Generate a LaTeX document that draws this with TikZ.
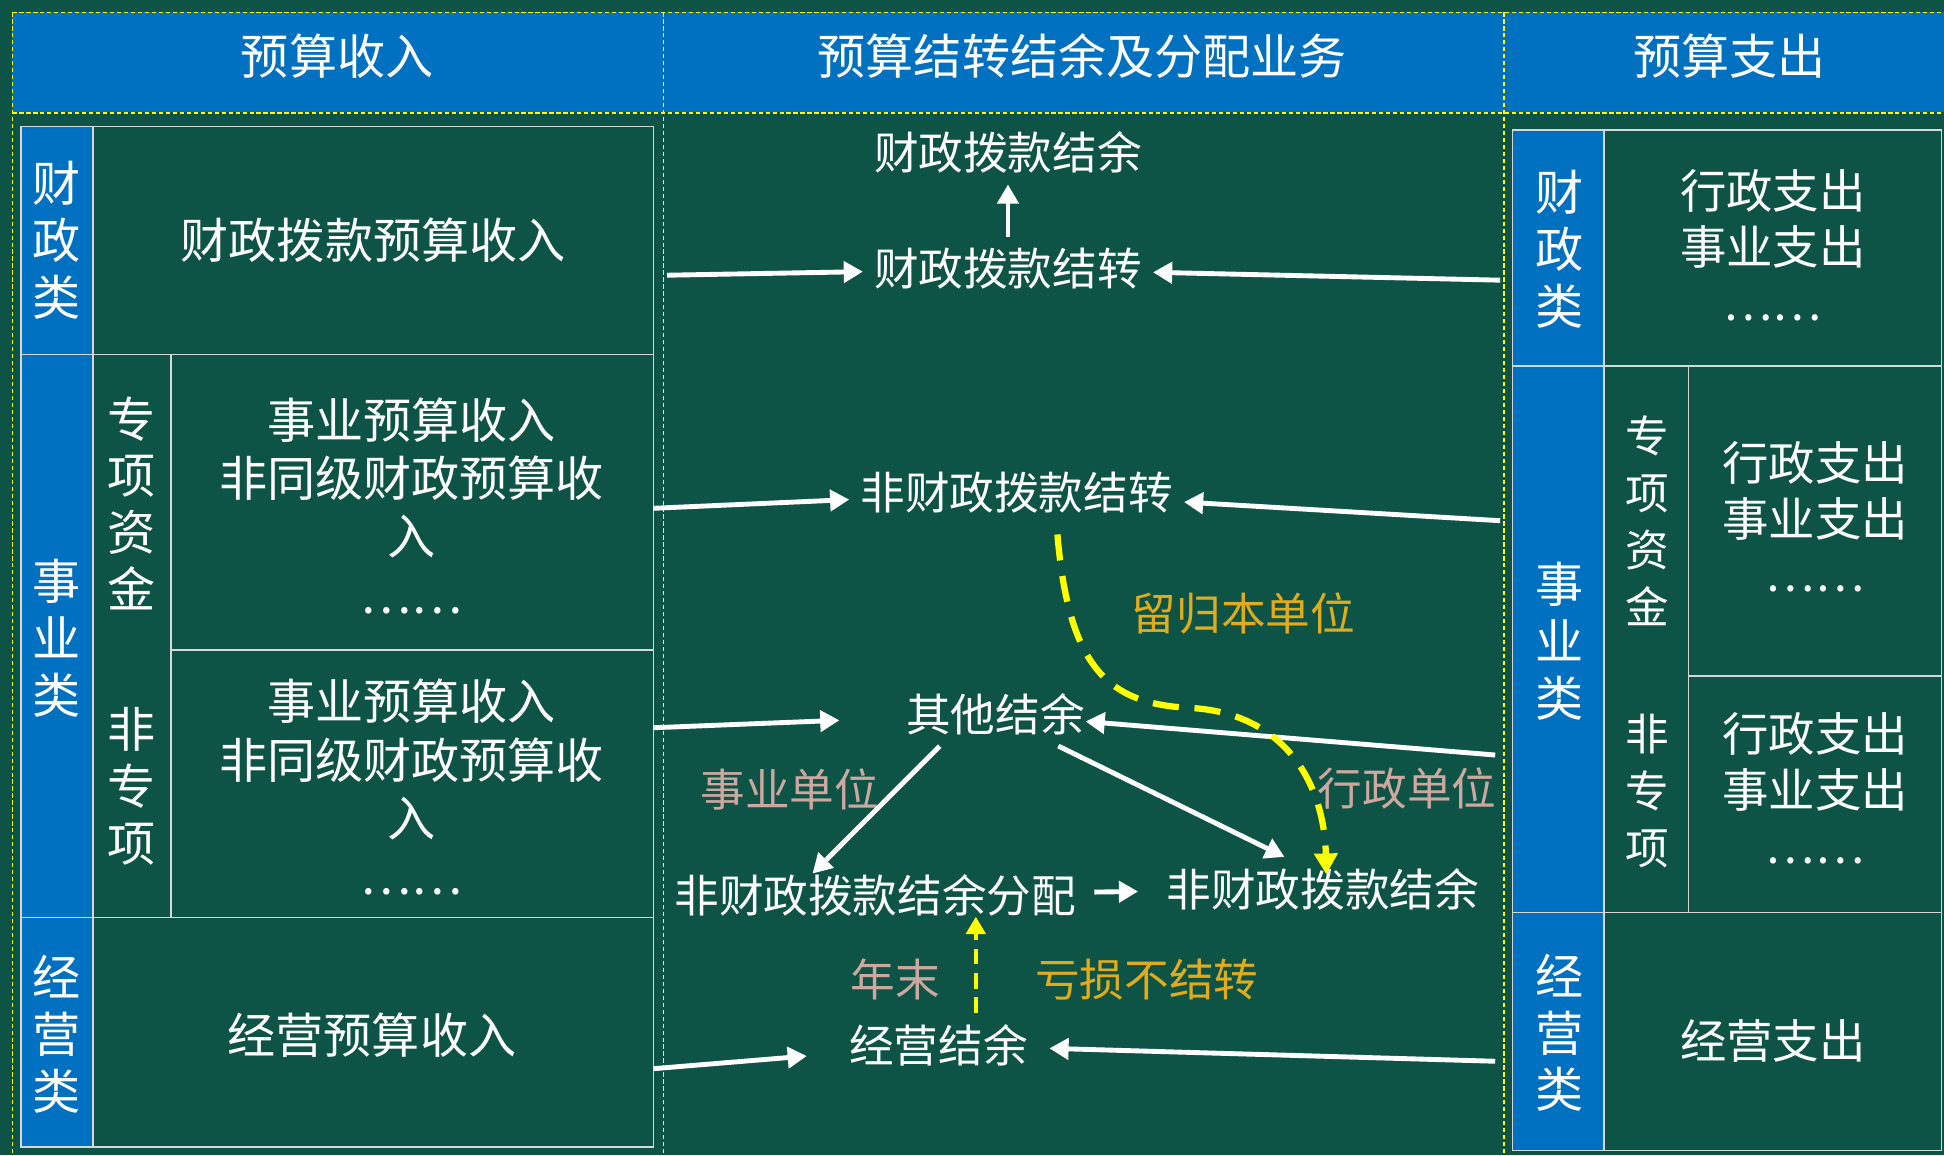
\documentclass[tikz,border=0pt]{standalone}
\usepackage{fontspec}
\setmainfont{Noto Sans CJK SC}
\usetikzlibrary{arrows.meta}
\definecolor{bggreen}{RGB}{13,84,71}
\definecolor{hblue}{RGB}{0,112,192}
\definecolor{yline}{RGB}{255,255,0}
\definecolor{linegray}{RGB}{215,215,215}
\definecolor{goldtext}{RGB}{224,172,30}
\definecolor{pinktext}{RGB}{205,168,160}
\begin{document}
\begin{tikzpicture}[x=0.0125cm, y=-0.0125cm,
    every node/.style={text=white, inner sep=3pt, align=center},
    cell/.style={draw=linegray, line width=0.5pt},
    ydash/.style={draw=yline, line width=0.4pt, dash pattern=on 1.2pt off 0.8pt},
    head/.style={font=\fontsize{13.8}{16}\selectfont},
    side/.style={font=\fontsize{13.8}{16.3}\selectfont},
    rside/.style={font=\fontsize{12.5}{16.3}\selectfont},
    body/.style={font=\fontsize{13.8}{16.7}\selectfont},
    rbody/.style={font=\fontsize{13.3}{16}\selectfont},
    item/.style={font=\fontsize{12.8}{15}\selectfont},
    goldnote/.style={item, text=goldtext},
    pinknote/.style={item, text=pinktext},
    arr/.style={draw=white, line width=1.4pt, -{Triangle[length=5.5pt,width=6pt]}},
    yarr/.style={draw=yline, line width=1.8pt, dash pattern=on 7.5pt off 4.5pt, -{Triangle[length=6pt,width=6.5pt]}},
    ysmall/.style={draw=yline, line width=1.3pt, dash pattern=on 4.5pt off 2.5pt, -{Triangle[length=5pt,width=5.5pt]}}]
\useasboundingbox (0,0) rectangle (1568,932);
\fill[bggreen] (0,0) rectangle (1568,932);

\fill[hblue] (10,10) rectangle (1575,90);
\draw[ydash] (10,10) -- (1575,10) (10,91) -- (1575,91);
\foreach \x in {10,535,1213}
  \draw[ydash] (\x,10) -- (\x,932);
\node[head] (hin) at (272,45) {预算收入};
\node[head] (hmid) at (873,45) {预算结转结余及分配业务};
\node[head] (hout) at (1395,45) {预算支出};

\filldraw[cell, fill=hblue] (17,102) rectangle (75,925);
\draw[cell] (17,102) rectangle (527,925);
\draw[cell] (17,286) -- (527,286) (17,740) -- (527,740)
  (138,524) -- (527,524) (138,286) -- (138,740) (75,102) -- (75,925);
\node[side] (lcat1) at (46,194) {财\\政\\类};
\node[body] (lfin) at (301,194) {财政拨款预算收入};
\node[side] (lcat2) at (46,515) {事\\业\\类};
\node[side] (lsub1) at (106,406) {专\\项\\资\\金};
\node[body] (lsp1) at (332,408) {事业预算收入\\非同级财政预算收\\入\\……};
\node[side] (lsub2) at (106,634) {非\\专\\项};
\node[body] (lsp2) at (332,635) {事业预算收入\\非同级财政预算收\\入\\……};
\node[side] (lcat3) at (46,834) {经\\营\\类};
\node[body] (lbiz) at (300,835) {经营预算收入};

\filldraw[cell, fill=hblue] (1220,105) rectangle (1294,928);
\draw[cell] (1220,105) rectangle (1566,928);
\draw[cell] (1220,295) -- (1566,295) (1220,736) -- (1566,736)
  (1362,545) -- (1566,545) (1362,295) -- (1362,736) (1294,105) -- (1294,928);
\node[side] (rcat1) at (1258,201) {财\\政\\类};
\node[rbody] (rfin) at (1430,198) {行政支出\\事业支出\\……};
\node[side] (rcat2) at (1258,517) {事\\业\\类};
\node[rside] (rsub1) at (1329,420) {专\\项\\资\\金};
\node[rbody] (rsp1) at (1464,417) {行政支出\\事业支出\\……};
\node[rside] (rsub2) at (1329,638) {非\\专\\项};
\node[rbody] (rsp2) at (1464,636) {行政支出\\事业支出\\……};
\node[side] (rcat3) at (1258,833) {经\\营\\类};
\node[rbody] (rbiz) at (1430,840) {经营支出};

\node[item] (fbal) at (813,123) {财政拨款结余};
\node[item] (fcar) at (813,217) {财政拨款结转};
\node[item] (nfcar) at (820,397) {非财政拨款结转};
\node[item] (other) at (803,576) {其他结余};
\node[item] (dist) at (706,722) {非财政拨款结余分配};
\node[item] (nfbal) at (1067,717) {非财政拨款结余};
\node[item] (biz) at (757,843) {经营结余};
\node[goldnote] (keep) at (1003,495) {留归本单位};
\node[pinknote] (inst) at (637,637) {事业单位};
\node[pinknote] (admin) at (1135,636) {行政单位};
\node[pinknote] (yend) at (722,790) {年末};
\node[goldnote] (loss) at (925,790) {亏损不结转};

\coordinate (lfin-o) at (538,222);
\coordinate (lsp1-o) at (527,410);
\coordinate (lsp2-o) at (527,587);
\coordinate (lbiz-o) at (527,862);
\coordinate (rfin-o) at (1210,226);
\coordinate (rsp1-o) at (1210,420);
\coordinate (rsp2-o) at (1206,609);
\coordinate (rbiz-o) at (1206,856);

\draw[arr] (lfin-o) -- (fcar);
\draw[arr] (rfin-o) -- (fcar);
\draw[arr] (fcar) -- (fbal);
\draw[arr] (lsp1-o) -- (nfcar);
\draw[arr] (rsp1-o) -- (nfcar);
\draw[arr, shorten >=16pt] (lsp2-o) -- (other);
\draw[arr, shorten >=-3pt] (rsp2-o) -- (other);
\draw[arr] ([xshift=-16pt]other.south) -- ([xshift=-18pt, yshift=-3pt]dist.north);
\draw[arr] ([xshift=18pt]other.south) -- ([xshift=-11pt]nfbal.north);
\draw[arr, shorten <=2pt, shorten >=5pt] (dist) -- (nfbal);
\draw[arr, shorten >=9pt] (lbiz-o) -- (biz);
\draw[arr, shorten >=3pt] (rbiz-o) -- (biz);
\draw[ysmall] ([xshift=10.7pt]biz.north) -- ([xshift=10.7pt, yshift=3pt]biz.north |- dist.south);
\draw[yarr] ([xshift=11.7pt, yshift=-3pt]nfcar.south) .. controls (862,540) and (895,568) .. (960,571)
  .. controls (1035,575) and (1068,630) .. ([xshift=1pt, yshift=-5pt]nfbal.north);
\end{tikzpicture}
\end{document}
